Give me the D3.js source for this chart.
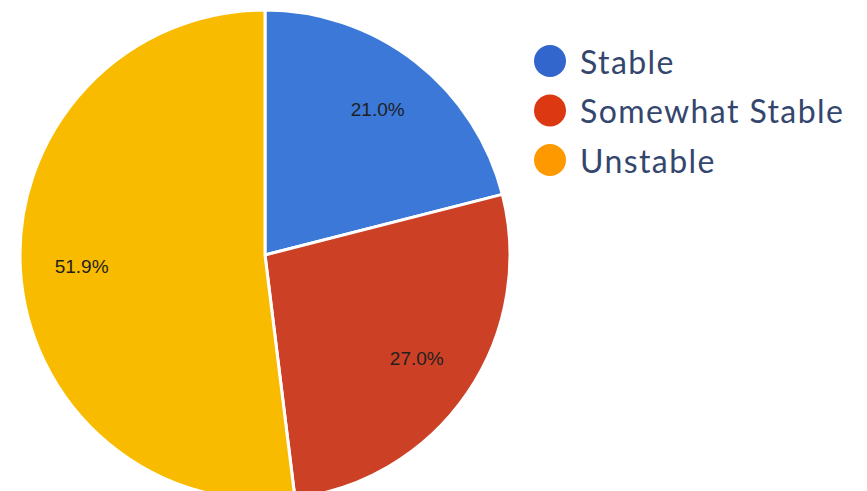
<!DOCTYPE html>
<html>
<head>
<meta charset="utf-8">
<script src="https://cdn.jsdelivr.net/npm/d3@7"></script>
<style>
  html, body { margin: 0; padding: 0; background: #fff; }
  svg { display: block; }
</style>
</head>
<body>
<svg id="chart" width="867" height="491"></svg>
<script>
// Stability breakdown
const categories = ["Stable", "Somewhat Stable", "Unstable"];
const values = [21.0, 27.0, 51.9];
const sliceColors = ["#3c78d8", "#cc4125", "#f9bb00"];
const legendColors = ["#3366cc", "#dc3912", "#ff9900"];

const width = 867, height = 491;
const cx = 265, cy = 255, radius = 245;

const svg = d3.select("#chart");
const g = svg.append("g").attr("transform", `translate(${cx},${cy})`);

const pie = d3.pie().sort(null).value(d => d.value);
const arcs = pie(categories.map((c, i) => ({ name: c, value: values[i], i })));

const arc = d3.arc().innerRadius(0).outerRadius(radius);
const labelArc = d3.arc().innerRadius(radius * 0.75).outerRadius(radius * 0.75);

g.selectAll("path.slice")
  .data(arcs)
  .join("path")
  .attr("class", "slice")
  .attr("d", arc)
  .attr("fill", d => sliceColors[d.data.i])
  .attr("stroke", "#ffffff")
  .attr("stroke-width", 3)
  .attr("stroke-linejoin", "round");

g.selectAll("text.pct")
  .data(arcs)
  .join("text")
  .attr("class", "pct")
  .attr("transform", d => `translate(${labelArc.centroid(d)})`)
  .attr("text-anchor", "middle")
  .attr("dominant-baseline", "central")
  .attr("font-family", "Liberation Sans, Arial, sans-serif")
  .attr("font-size", 19)
  .attr("fill", "#1f1f1f")
  .text(d => d.data.value.toFixed(1) + "%");

// Legend
const legend = svg.append("g").attr("transform", "translate(550,61)");
const rows = legend.selectAll("g.row")
  .data(categories)
  .join("g")
  .attr("class", "row")
  .attr("transform", (d, i) => `translate(0,${i * 49.5})`);

rows.append("circle")
  .attr("r", 16)
  .attr("fill", (d, i) => legendColors[i]);

rows.append("text")
  .attr("x", 30)
  .attr("y", 0)
  .attr("dominant-baseline", "central")
  .attr("font-family", "Lato, sans-serif")
  .attr("font-weight", 400)
  .attr("font-size", 32)
  .attr("letter-spacing", 1.4)
  .attr("fill", "#34466e")
  .text(d => d);
</script>
</body>
</html>
